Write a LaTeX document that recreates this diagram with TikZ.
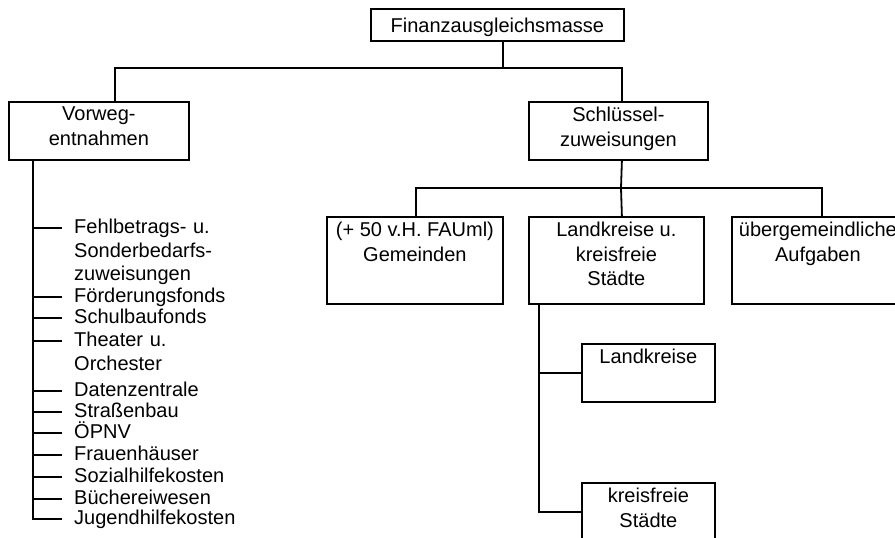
\documentclass[tikz,border=0pt]{standalone}
\usepackage{fontspec}
\setmainfont{Liberation Sans}
\newcommand\boxfont{\fontsize{20}{24.5}\selectfont}
\newcommand\itemfont{\fontsize{20}{23.5}\selectfont}
\begin{document}
\begin{tikzpicture}[x=1pt, y=-1pt,
  box/.style 2 args={draw, line width=1.8pt, minimum width=#1pt, minimum height=#2pt, inner sep=0pt, anchor=north west},
  boxtext/.style={anchor=north, align=center, inner sep=0pt, yshift=-6pt, font=\boxfont},
  item/.style={anchor=base west, text width=170pt, align=left, inner sep=0pt, font=\itemfont},
  conn/.style={line width=1.8pt},
  tick/.style={line width=1.3pt}]
 \useasboundingbox (0,0) rectangle (895,538);
 % boxes
 \node[box={253}{32}, font=\boxfont, text depth=0pt] (fam) at (370,8) {Finanzausgleichsmasse};
 \node[box={180}{58}, label={[boxtext]north:{Vorweg-\\entnahmen}}] (vor) at (8,101) {};
 \node[box={179}{58}, label={[boxtext]north:{Schlüssel-\\zuweisungen}}] (sz) at (528,101) {};
 \node[box={176}{87}, label={[boxtext]north:{(+ 50 v.H. FAUml)\\Gemeinden}}] (gem) at (326,216) {};
 \node[box={175}{87}, label={[boxtext]north:{Landkreise u.\\kreisfreie\\Städte}}] (lk) at (528,216) {};
 \node[box={172}{87}, label={[boxtext]north:{übergemeindliche\\Aufgaben}}] (ueb) at (731,216) {};
 \node[box={133}{58}, label={[boxtext]north:{Landkreise}}] (lkr) at (581,343) {};
 \node[box={133}{58}, label={[boxtext]north:{kreisfreie\\Städte}}] (kfs) at (581,482) {};
 % list of Vorwegentnahmen
 \node[item] (fb) at (74,233.5) {Fehlbetrags- u.\\Sonderbedarfs-\\zuweisungen};
 \node[item] (ff) at (74,302.5) {Förderungsfonds};
 \node[item] (sf) at (74,323.5) {Schulbaufonds};
 \node[item] (to) at (74,346.5) {Theater u.\\Orchester};
 \node[item] (dz) at (74,396.5) {Datenzentrale};
 \node[item] (sb) at (74,417.5) {Straßenbau};
 \node[item] (oe) at (74,438.5) {ÖPNV};
 \node[item] (fh) at (74,460.5) {Frauenhäuser};
 \node[item] (sh) at (74,482.5) {Sozialhilfekosten};
 \node[item] (bw) at (74,504.5) {Büchereiwesen};
 \node[item] (jh) at (74,524.5) {Jugendhilfekosten};
 % connectors
 \coordinate (b1) at (502,68);
 \coordinate (b2) at (621,188);
 \draw[conn] ([xshift=5.5pt]fam.south) -- ([xshift=5.5pt]fam.south |- b1);
 \draw[conn] ([xshift=16pt]vor.north) |- ([xshift=3.5pt]sz.north |- b1) -- ([xshift=3.5pt]sz.north);
 \draw[conn] ([xshift=3.5pt]sz.south) -- (b2) -- ([xshift=5.5pt]lk.north);
 \draw[conn] ([xshift=1pt]gem.north) |- ([xshift=4pt]ueb.north |- b2) -- ([xshift=4pt]ueb.north);
 \coordinate (sp) at ([xshift=11pt]lk.south west);
 \draw[conn] (sp) |- (kfs.west);
 \draw[tick] (lkr.west) -- (lkr.west -| sp);
 \coordinate (vsp) at ([xshift=25pt]vor.south west);
 \draw[conn] (vsp) |- ([xshift=-12pt,yshift=5.5pt]jh.base west);
 \foreach \i in {fb,ff,sf,to,dz,sb,oe,fh,sh,bw}
  \draw[tick] (\i.base west) ++(-12,-5.5) coordinate (t) -- (t -| vsp);
\end{tikzpicture}
\end{document}
